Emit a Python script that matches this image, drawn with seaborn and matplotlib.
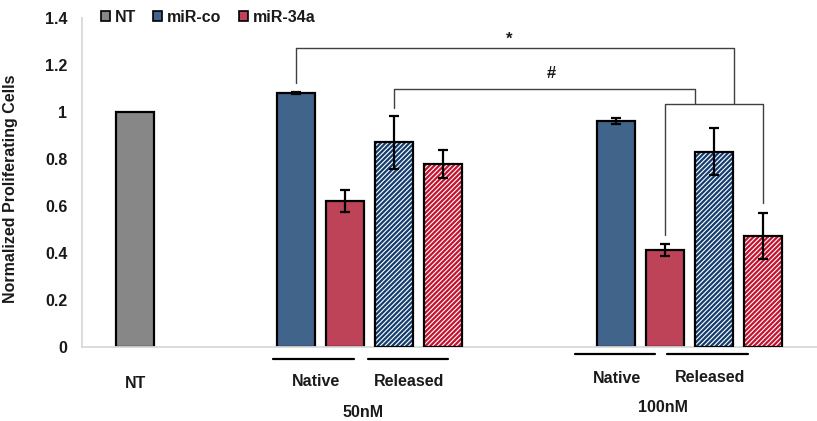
import numpy as np
import pandas as pd
import seaborn as sns
import matplotlib.pyplot as plt
from matplotlib.patches import Patch, Rectangle
import matplotlib.transforms as mtransforms

# data
series = ['NT', 'miR-co', 'miR-34a', 'miR-co', 'miR-34a', 'miR-co', 'miR-34a', 'miR-co', 'miR-34a']
form = ['NT', 'Native', 'Native', 'Released', 'Released', 'Native', 'Native', 'Released', 'Released']
dose = ['NT', '50nM', '50nM', '50nM', '50nM', '100nM', '100nM', '100nM', '100nM']
values = [1.0, 1.08, 0.62, 0.872, 0.78, 0.962, 0.413, 0.83, 0.472]
errors = [0.0, 0.003, 0.047, 0.113, 0.06, 0.012, 0.025, 0.1, 0.098]
yticks = [0, 0.2, 0.4, 0.6, 0.8, 1, 1.2, 1.4]
ytick_labels = ['0', '0.2', '0.4', '0.6', '0.8', '1', '1.2', '1.4']

# layout of the groups along x (slot units)
group_start = {'NT': 1.08, '50nM': 4.37, '100nM': 10.9}
fill = {'NT': '#878787', 'miR-co': '#41658a', 'miR-34a': '#be4258'}
stripe = {'miR-co': '#133d6e', 'miR-34a': '#c4122f'}
TXT = '#1a1a1a'

df = pd.DataFrame({'series': series, 'form': form, 'dose': dose,
                   'value': values, 'err': errors})
df['pos'] = df['dose'].map(group_start) + df.groupby('dose').cumcount()

sns.set_theme(style='white')
plt.rcParams['font.family'] = ['Liberation Sans', 'DejaVu Sans']
plt.rcParams['hatch.linewidth'] = 1.6

fig, ax = plt.subplots(figsize=(8.17, 4.21), dpi=100)
fig.subplots_adjust(left=82 / 817, right=1.0, bottom=74 / 421, top=1 - 18 / 421)

sns.barplot(data=df, x='pos', y='value', hue='series', native_scale=True, dodge=False,
            width=0.79, palette=fill, saturation=1, edgecolor='black', linewidth=1.6,
            errorbar=None, legend=False, ax=ax)

for p in list(ax.patches):
    cx = p.get_x() + p.get_width() / 2
    i = int(np.argmin(np.abs(df['pos'].values - cx)))
    if df['form'][i] == 'Released':
        p.set_facecolor('white')
        p.set_edgecolor(stripe[df['series'][i]])
        p.set_hatch('///////')
        p.set_linewidth(0)
        ax.add_patch(Rectangle((p.get_x(), p.get_y()), p.get_width(), p.get_height(),
                               fill=False, edgecolor='black', linewidth=1.6, zorder=3))

e = df[df['err'] > 0]
ax.errorbar(e['pos'], e['value'], yerr=e['err'], fmt='none', ecolor='black',
            elinewidth=1.6, capsize=3.3, capthick=1.6, zorder=4)

ax.set_xlim(0, 15)
ax.set_ylim(0, 1.4)
ax.set_xticks([])
ax.set_yticks(yticks)
ax.set_yticklabels(ytick_labels, fontsize=11.5, fontweight='bold', color=TXT)
ax.tick_params(axis='y', length=0, pad=10.5)
ax.set_xlabel('')
ax.set_ylabel('Normalized Proliferating Cells', fontsize=11.5, fontweight='bold', color=TXT)
ax.yaxis.set_label_coords(-0.087, 0.48)
sns.despine(ax=ax, top=True, right=True)
for s in ['left', 'bottom']:
    ax.spines[s].set_color('#d9d9d9')
    ax.spines[s].set_linewidth(1.3)

# significance brackets
pos = df['pos'].values
hw = 0.4
br = dict(color='#404040', lw=1.0, clip_on=False, zorder=5)
# lower bracket between 100nM miR-34a native / released
ax.plot([pos[6], pos[6], pos[8], pos[8]], [0.477, 1.034, 1.034, 0.613], **br)
# *
ax.plot([pos[1], pos[1], pos[7] + hw, pos[7] + hw], [1.123, 1.272, 1.272, 1.034], **br)
ax.text(pos[3] + 2.35, 1.31, '*', ha='center', va='center', fontsize=12,
        fontweight='bold', color=TXT)
# #
ax.plot([pos[3], pos[3], pos[7] - hw, pos[7] - hw], [1.017, 1.098, 1.098, 1.034], **br)
ax.text(pos[3] + 3.2, 1.165, '#', ha='center', va='center', fontsize=12,
        fontweight='bold', color=TXT)

# group labels below the axis
tr = mtransforms.blended_transform_factory(ax.transData, ax.transAxes)
under = [(3.90, 5.55, -0.0365), (5.84, 7.47, -0.0365),
         (10.06, 11.69, -0.0213), (11.94, 13.59, -0.0213)]
for x0, x1, yy in under:
    ax.plot([x0, x1], [yy, yy], color='black', lw=1.6, transform=tr, clip_on=False)
labs = [('NT', 1.10, -0.112), ('Native', 4.78, -0.106), ('Released', 6.67, -0.106),
        ('50nM', 5.73, -0.198), ('Native', 10.92, -0.097), ('Released', 12.82, -0.094),
        ('100nM', 11.86, -0.185)]
for t, xx, yy in labs:
    ax.text(xx, yy, t, transform=tr, ha='center', va='center', fontsize=11.5,
            fontweight='bold', color=TXT)

handles = [Patch(facecolor=fill[k], edgecolor='black', linewidth=1.2, label=k)
           for k in ['NT', 'miR-co', 'miR-34a']]
fig.legend(handles=handles, loc='center left', bbox_to_anchor=(101 / 817, 1 - 17 / 421),
           ncol=3, frameon=False, handlelength=0.55, handleheight=0.55,
           handletextpad=0.3, columnspacing=1.1, borderaxespad=0, borderpad=0,
           prop={'size': 11.5, 'weight': 'bold'}, labelcolor=TXT)

fig.savefig('out.png', dpi=100)
